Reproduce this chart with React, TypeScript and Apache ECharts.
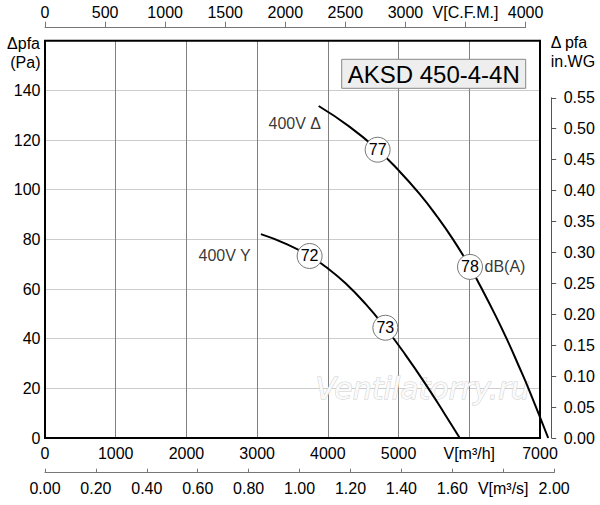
import React, { useEffect, useRef } from "react";
import * as echarts from "echarts";

// ---- data ----
const deltaFlow = [3870, 4300, 4704, 5000, 5294, 5550, 5770, 6010, 6160, 6350, 6536, 6700, 6842, 7116];
const deltaPa = [133.7, 125.5, 116.1, 107.8, 98.4, 89.0, 80.0, 68.9, 61.0, 50.5, 39.5, 29.0, 19.6, 0];
const starFlow = [3053, 3400, 3742, 4000, 4250, 4530, 4813, 5100, 5400, 5650, 5865];
const starPa = [82.1, 78.3, 73.3, 68.3, 62.3, 54.1, 44.4, 33.4, 20.9, 9.8, 0];
const noiseFlow = [4704, 6010, 3742, 4813];
const noisePa = [116.1, 68.9, 73.3, 44.4];
const noiseDb = ["77", "78", "72", "73"];
const curveLabels = ["400V Δ", "400V Y"];
const curveLabelFlow = [3903, 2910];
const curveLabelPa = [126.8, 73.3];
const title = "AKSD 450-4-4N";

const FONT = "'Liberation Sans', Arial, Helvetica, sans-serif";

// layout constants
const GL = 45;
const GT = 40.7;
const GW = 495;
const GH = 397.3;
const X_MAX = 7000;
const X_MAX_CURVES = 7140;
const Y_MAX = 160;
const pxPerM3h = GW / X_MAX;
const pxPerPa = GH / Y_MAX;
const M3H_PER_CFM = 1.69901;
const PA_PER_INWG = 249.089;
const cfmW = 4000 * M3H_PER_CFM * pxPerM3h;
const m3sW = 2 * 3600 * pxPerM3h;
const wgH = 0.55 * PA_PER_INWG * pxPerPa;
const bottomY = GT + GH;

export default function App() {
  const ref = useRef<HTMLDivElement>(null);
  useEffect(() => {
    document.body.style.margin = "0";
    const chart = echarts.init(ref.current!, null, { renderer: "svg" });
    const axisText = { color: "#000", fontSize: 16, fontFamily: FONT };
    const option: any = {
      animation: false,
      backgroundColor: "#fff",
      textStyle: { fontFamily: FONT },
      grid: [
        { left: GL, top: GT, width: GW, height: GH, show: true, borderColor: "#000", borderWidth: 2, backgroundColor: "transparent", z: 3 },
        { left: GL, top: 26.7, width: cfmW, height: 1 },
        { left: GL, top: 471.7, width: m3sW, height: 1 },
        { left: 551.7, top: bottomY - wgH, width: 1, height: wgH },
        { left: GL, top: GT, width: X_MAX_CURVES * pxPerM3h, height: GH },
      ],
      xAxis: [
        {
          gridIndex: 0, type: "value", min: 0, max: X_MAX, interval: 1000, position: "bottom",
          axisLine: { show: false }, axisTick: { show: false },
          axisLabel: { ...axisText, margin: 7, showMinLabel: true, showMaxLabel: true, hideOverlap: false,
            formatter: (v: number) => (v === 6000 ? "V[m³/h]" : String(v)) },
          splitLine: { show: true, lineStyle: { color: "#808080", width: 1 } },
        },
        {
          gridIndex: 1, type: "value", min: 0, max: 4000, interval: 500, position: "top",
          axisLine: { show: true, lineStyle: { color: "#777", width: 1 } },
          axisTick: { show: true, length: 6, lineStyle: { color: "#777", width: 1 } },
          axisLabel: { ...axisText, margin: 6, showMinLabel: true, showMaxLabel: true, hideOverlap: false,
            formatter: (v: number) => (v === 3500 ? "V[C.F.M.]" : String(v)) },
          splitLine: { show: false },
        },
        {
          gridIndex: 2, type: "value", min: 0, max: 2, interval: 0.2, position: "bottom",
          axisLine: { show: true, lineStyle: { color: "#777", width: 1 } },
          axisTick: { show: true, inside: true, length: 4, lineStyle: { color: "#777", width: 1 } },
          axisLabel: { ...axisText, margin: 8, showMinLabel: true, showMaxLabel: true, hideOverlap: false,
            formatter: (v: number) => (Math.abs(v - 1.8) < 1e-6 ? "V[m³/s]" : v.toFixed(2)) },
          splitLine: { show: false },
        },
        { gridIndex: 3, type: "value", min: 0, max: 1, show: false },
        { gridIndex: 4, type: "value", min: 0, max: X_MAX_CURVES, show: false },
      ],
      yAxis: [
        {
          gridIndex: 0, type: "value", min: 0, max: Y_MAX, interval: 20, position: "left",
          axisLine: { show: false }, axisTick: { show: false },
          axisLabel: { ...axisText, margin: 4.5, showMaxLabel: true, hideOverlap: false,
            formatter: (v: number) => (v === 160 ? "" : String(v)) },
          splitLine: { show: true, lineStyle: { color: "#cccccc", width: 1 } },
        },
        { gridIndex: 1, type: "value", min: 0, max: 1, show: false },
        { gridIndex: 2, type: "value", min: 0, max: 1, show: false },
        {
          gridIndex: 3, type: "value", min: 0, max: 0.55, interval: 0.05, position: "right",
          axisLine: { show: true, lineStyle: { color: "#555", width: 1 } },
          axisTick: { show: true, length: 4.5, lineStyle: { color: "#555", width: 1 } },
          axisLabel: { ...axisText, margin: 11, showMinLabel: true, showMaxLabel: true, hideOverlap: false,
            formatter: (v: number) => v.toFixed(2) },
          splitLine: { show: false },
        },
        { gridIndex: 4, type: "value", min: 0, max: Y_MAX, show: false },
      ],
      graphic: [
        {
          type: "text", left: 315, top: 373, z: 1, silent: true,
          style: { text: "Ventilatorry.ru", font: "italic 30px 'DejaVu Sans'", fill: "#fafafa", stroke: "#cfcfcf", lineWidth: 1 },
        },
        {
          type: "rect", z: 10, shape: { x: 341.7, y: 59.3, width: 184, height: 29 },
          style: { fill: "#eeeeee", stroke: "#888", lineWidth: 1 },
        },
        {
          type: "text", z: 11, x: 433.7, y: 74,
          style: { text: title, font: `24px ${FONT}`, fill: "#000", align: "center", verticalAlign: "middle" },
        },
        { type: "text", x: 40, y: 43, style: { text: "Δpfa", font: `16px ${FONT}`, fill: "#000", align: "right", verticalAlign: "middle" } },
        { type: "text", x: 40.5, y: 62.5, style: { text: "(Pa)", font: `16px ${FONT}`, fill: "#000", align: "right", verticalAlign: "middle" } },
        { type: "text", x: 550.7, y: 42.5, style: { text: "Δ pfa", font: `16px ${FONT}`, fill: "#000", align: "left", verticalAlign: "middle" } },
        { type: "text", x: 550.7, y: 61, style: { text: "in.WG", font: `16px ${FONT}`, fill: "#000", align: "left", verticalAlign: "middle" } },
      ],
      series: [
        {
          type: "line", xAxisIndex: 4, yAxisIndex: 4, smooth: true, symbol: "none", z: 4,
          lineStyle: { color: "#000", width: 2 },
          data: deltaFlow.map((f, i) => [f, deltaPa[i]]),
        },
        {
          type: "line", xAxisIndex: 4, yAxisIndex: 4, smooth: true, symbol: "none", z: 4,
          lineStyle: { color: "#000", width: 2 },
          data: starFlow.map((f, i) => [f, starPa[i]]),
        },
        {
          type: "scatter", xAxisIndex: 4, yAxisIndex: 4, symbol: "circle", symbolSize: 25, z: 5,
          itemStyle: { color: "#fff", borderColor: "#777", borderWidth: 1, opacity: 1 },
          label: { show: true, position: "inside", color: "#000", fontSize: 16, fontFamily: FONT,
            formatter: (p: any) => p.value[2] },
          data: noiseFlow.map((f, i) => [f, noisePa[i], noiseDb[i]]),
        },
        {
          type: "scatter", xAxisIndex: 4, yAxisIndex: 4, symbol: "circle", symbolSize: 25, z: 5,
          itemStyle: { color: "transparent" },
          label: { show: true, position: "right", distance: 2, color: "#000", fontSize: 16, fontFamily: FONT,
            formatter: "dB(A)" },
          data: [[noiseFlow[1], noisePa[1]]],
        },
        {
          type: "scatter", xAxisIndex: 4, yAxisIndex: 4, symbolSize: 0, z: 5,
          label: { show: true, position: [0, 0], align: "right", verticalAlign: "middle", color: "#000", fontSize: 16, fontFamily: FONT,
            formatter: (p: any) => p.value[2] },
          data: curveLabels.map((t, i) => [curveLabelFlow[i], curveLabelPa[i], t]),
        },
      ],
    };
    chart.setOption(option);
    return () => chart.dispose();
  }, []);
  return <div ref={ref} style={{ width: 600, height: 505 }} />;
}
